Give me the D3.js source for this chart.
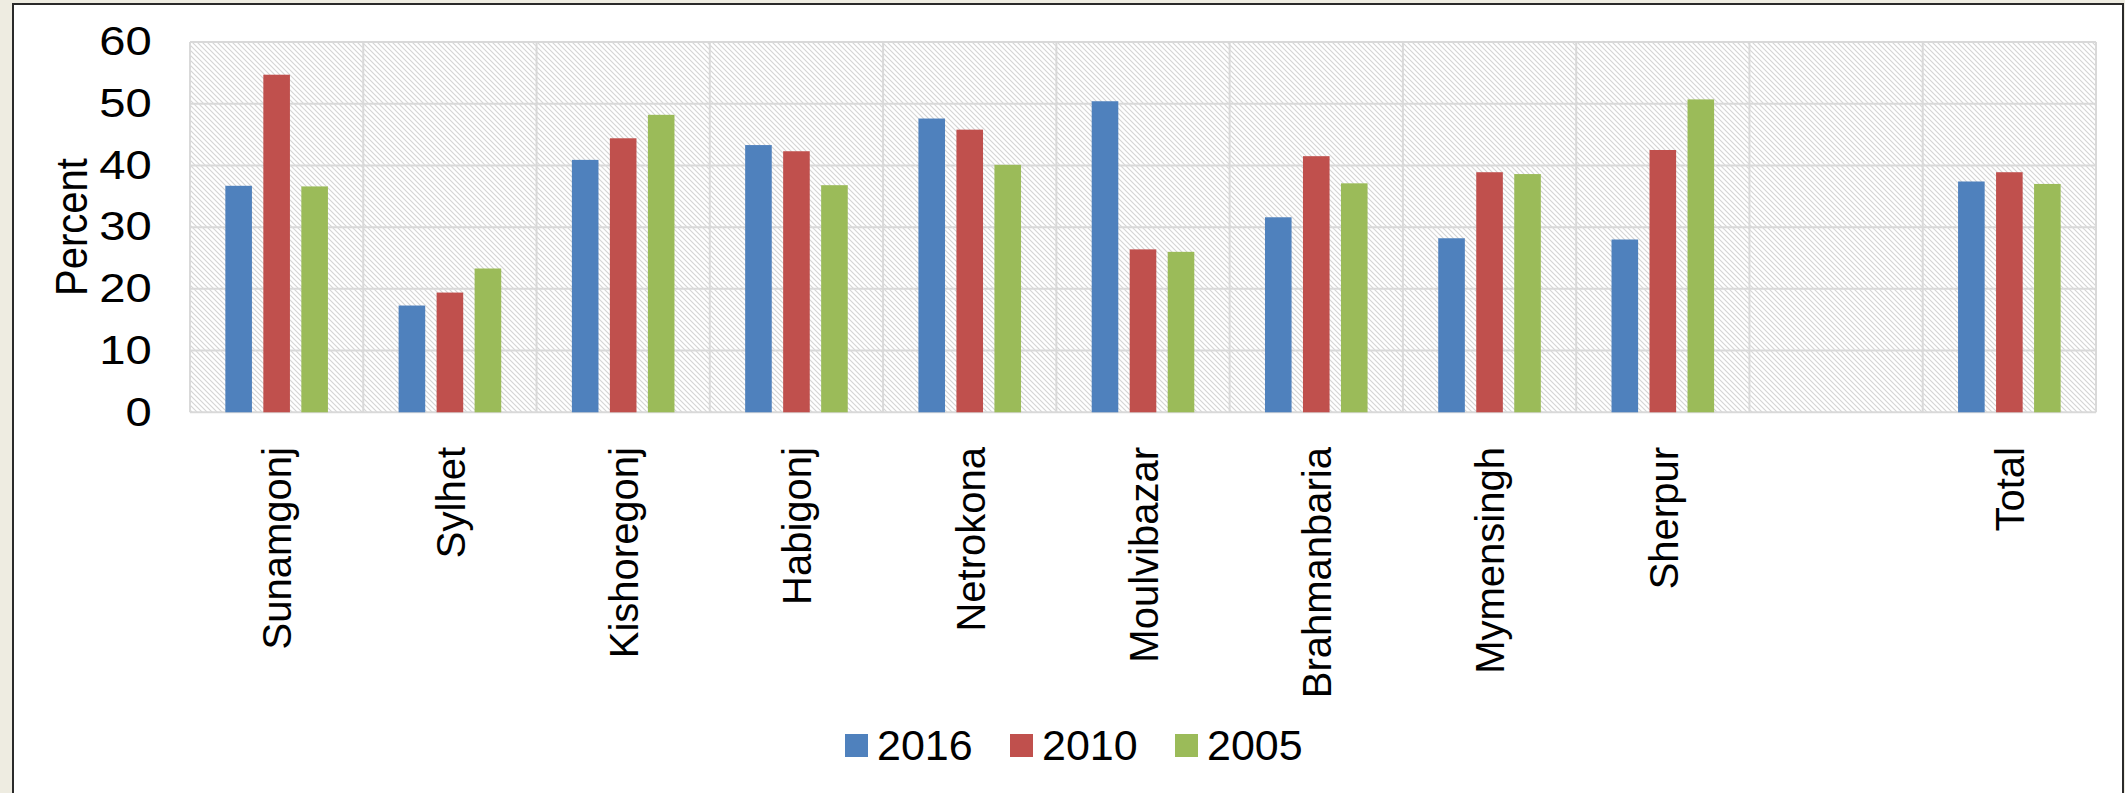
<!doctype html>
<html>
<head>
    <meta charset="utf-8">
    <title>Percent by district</title>
    <script src="https://cdn.jsdelivr.net/npm/d3@7"></script>
    <style>
        body { margin: 0; background: #eeece1; }
        svg { display: block; font-family: "Liberation Sans", Arial, sans-serif; }
    </style>
</head>
<body>
<svg id="chart" width="2125" height="793"></svg>
<script>
    // chart values
    const categories = ["Sunamgonj", "Sylhet", "Kishoregonj", "Habigonj", "Netrokona",
        "Moulvibazar", "Brahmanbaria", "Mymensingh", "Sherpur", "", "Total"];
    const seriesNames = ["2016", "2010", "2005"];
    const values2016 = [36.7, 17.3, 40.9, 43.3, 47.6, 50.4, 31.6, 28.2, 28.0, null, 37.4];
    const values2010 = [54.7, 19.4, 44.4, 42.3, 45.8, 26.4, 41.5, 38.9, 42.5, null, 38.9];
    const values2005 = [36.6, 23.3, 48.2, 36.8, 40.1, 26.0, 37.1, 38.6, 50.7, null, 37.0];
    const yTicks = [0, 10, 20, 30, 40, 50, 60];
    const colors = ["#4f81bd", "#c0504d", "#9bbb59"];

    const seriesValues = [values2016, values2010, values2005];

    let svg = d3.select("#chart");

    // hatch pattern for the plot area
    let defs = svg.append("defs");
    let pat = defs.append("pattern")
        .attr("id", "hatch")
        .attr("patternUnits", "userSpaceOnUse")
        .attr("width", 5)
        .attr("height", 5);
    pat.append("rect").attr("width", 5).attr("height", 5).attr("fill", "#ffffff");
    pat.append("path")
        .attr("d", "M0,0 L5,5 M-1,4 L1,6 M4,-1 L6,1")
        .attr("stroke", "#d4d4d4")
        .attr("stroke-width", 1.1);

    // white chart frame
    svg.append("rect")
        .attr("x", 13).attr("y", 4)
        .attr("width", 2110).attr("height", 800)
        .attr("fill", "#ffffff")
        .attr("stroke", "#2a2a2a")
        .attr("stroke-width", 2);

    let plot = {left: 190, right: 2096, top: 42, bottom: 412.3};

    let x = d3.scaleBand()
        .domain(categories)
        .range([plot.left, plot.right])
        .paddingInner(0)
        .paddingOuter(0);

    let xSub = d3.scaleBand()
        .domain(seriesNames)
        .range([0, x.bandwidth()])
        .paddingInner(0.3)
        .paddingOuter(0.93);

    let y = d3.scaleLinear()
        .domain([0, 60])
        .range([plot.bottom, plot.top]);

    // plot background
    svg.append("rect")
        .attr("x", plot.left).attr("y", plot.top)
        .attr("width", plot.right - plot.left)
        .attr("height", plot.bottom - plot.top)
        .attr("fill", "url(#hatch)");

    // grid lines
    let grid = svg.append("g").attr("stroke", "#d9d9d9").attr("stroke-width", 2);
    grid.selectAll("line.h")
        .data(yTicks)
        .enter().append("line")
        .attr("class", "h")
        .attr("x1", plot.left).attr("x2", plot.right)
        .attr("y1", d => y(d)).attr("y2", d => y(d));
    grid.selectAll("line.v")
        .data(categories.map(c => x(c)).concat([plot.right]))
        .enter().append("line")
        .attr("class", "v")
        .attr("x1", d => d).attr("x2", d => d)
        .attr("y1", plot.top).attr("y2", plot.bottom);

    // bars
    let groups = svg.append("g")
        .selectAll("g")
        .data(categories)
        .enter().append("g")
        .attr("transform", d => "translate(" + x(d) + ",0)");

    groups.selectAll("rect")
        .data((c, i) => seriesNames.map((s, j) => ({s: s, v: seriesValues[j][i], j: j})).filter(d => d.v != null))
        .enter().append("rect")
        .attr("x", d => xSub(d.s))
        .attr("width", xSub.bandwidth())
        .attr("y", d => y(d.v))
        .attr("height", d => y(0) - y(d.v))
        .attr("fill", d => colors[d.j]);

    // y axis (labels only)
    let yAxis = svg.append("g")
        .attr("transform", "translate(" + plot.left + ",0)")
        .call(d3.axisLeft(y).tickValues(yTicks).tickSize(0).tickPadding(0));
    yAxis.select(".domain").remove();
    yAxis.selectAll("text")
        .attr("x", -32.5)
        .attr("transform", "scale(1.18,1)")
        .attr("fill", "#000")
        .style("font-size", "40px")
        .style("font-family", "'Liberation Sans', Arial, sans-serif");

    svg.append("text")
        .attr("transform", "translate(87,227) scale(1.13,1) rotate(-90)")
        .attr("text-anchor", "middle")
        .style("font-size", "40px")
        .text("Percent");

    // category labels
    svg.append("g")
        .selectAll("text")
        .data(categories)
        .enter().append("text")
        .attr("transform", d => "translate(" + (x(d) + x.bandwidth() / 2) + ",447) rotate(-90)")
        .attr("text-anchor", "end")
        .attr("dy", "0.37em")
        .style("font-size", "40px")
        .text(d => d);

    // legend
    let legendX = d3.scalePoint()
        .domain(seriesNames)
        .range([845, 1175]);

    let legend = svg.append("g")
        .selectAll("g")
        .data(seriesNames)
        .enter().append("g")
        .attr("transform", d => "translate(" + legendX(d) + ",734)");
    legend.append("rect")
        .attr("width", 23).attr("height", 23)
        .attr("fill", (d, i) => colors[i]);
    legend.append("text")
        .attr("x", 32).attr("y", 26)
        .style("font-size", "43px")
        .text(d => d);
</script>
</body>
</html>
